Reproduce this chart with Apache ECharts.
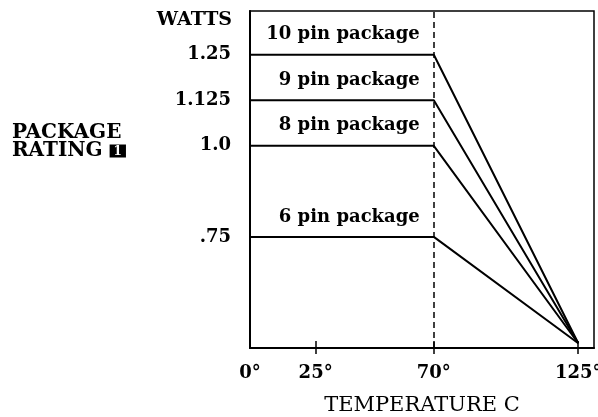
<!DOCTYPE html>
<html>
<head>
<meta charset="utf-8">
<script src="https://cdn.jsdelivr.net/npm/echarts@6/dist/echarts.min.js"></script>
<style>html,body{margin:0;padding:0;background:#fff}#c{width:598px;height:417px}</style>
</head>
<body>
<div id="c"></div>
<script>
// Data
const seriesNames = ['10 pin package', '9 pin package', '8 pin package', '6 pin package'];
const ratings = [1.25, 1.125, 1.0, 0.75];       // watts up to the derating knee
const kneeTemp = 70;                             // °C
const startTemp = 0;
const endTemp = 125;
const endValue = 0.458;                          // convergence point (bottom of drawn scale)
const yTickValues = [0.75, 1.0, 1.125, 1.25];
const yTickLabels = ['.75', '1.0', '1.125', '1.25'];
const xTickValues = [0, 25, 70, 125];
const xTickLabels = ['0°', '25°', '70°', '125°'];

const FONT = 'DejaVu Serif';
const chart = echarts.init(document.getElementById('c'), null, {renderer: 'canvas'});

const series = seriesNames.map((name, i) => ({
  name: name,
  type: 'line',
  xAxisIndex: 0,
  symbol: 'circle',
  symbolSize: 0.1,
  showSymbol: true,
  itemStyle: {color: '#000'},
  lineStyle: {color: '#000', width: 2},
  animation: false,
  data: [
    [startTemp, ratings[i]],
    {value: [kneeTemp, ratings[i]], label: {
      show: true, position: 'left', distance: 5, offset: [-9, -20],
      formatter: '{a}', color: '#000', fontFamily: FONT, fontWeight: 'bold', fontSize: 18
    }},
    [endTemp, endValue]
  ],
  markLine: i === 0 ? {
    silent: true, symbol: 'none', label: {show: false},
    lineStyle: {color: '#000', width: 1.5, type: [6, 4]},
    data: [{xAxis: kneeTemp}]
  } : undefined
}));

chart.setOption({
  backgroundColor: '#fff',
  animation: false,
  title: [
    {text: 'WATTS', right: 366, top: 11, padding: 0,
     textStyle: {fontFamily: FONT, fontWeight: 'bold', fontSize: 19, color: '#000'}},
    {text: 'PACKAGE\nRATING {b|1}', left: 12, top: 124, padding: 0,
     textStyle: {fontFamily: FONT, fontWeight: 'bold', fontSize: 20, color: '#000', lineHeight: 18,
       rich: {b: {backgroundColor: '#000', color: '#fff', fontFamily: FONT, fontWeight: 'bold',
                  fontSize: 12, padding: [1, 4, 0, 4], lineHeight: 14}}}}
  ],
  grid: {left: 250, right: 4, top: 11, bottom: 69, show: true, borderColor: '#000', borderWidth: 1.5,
         containLabel: false, outerBoundsMode: 'none'},
  xAxis: [{
    type: 'value', min: 0, max: 131, position: 'bottom',
    name: 'TEMPERATURE C', nameLocation: 'middle', nameGap: 47,
    nameTextStyle: {fontFamily: FONT, fontSize: 21, color: '#000'},
    axisLine: {show: true, lineStyle: {color: '#000', width: 2}},
    axisTick: {show: true, customValues: [25, 70, 125], length: 6, lineStyle: {color: '#000', width: 1.5}},
    axisLabel: {customValues: xTickValues, margin: 16, color: '#000', fontFamily: FONT, fontWeight: 'bold', fontSize: 18,
      hideOverlap: false, formatter: v => xTickLabels[xTickValues.indexOf(v)] || ''},
    splitLine: {show: false}
  }, {
    type: 'value', min: 0, max: 131, position: 'bottom', gridIndex: 0,
    axisLine: {show: false},
    axisTick: {show: true, inside: true, customValues: [25, 70, 125], length: 7, lineStyle: {color: '#000', width: 1.5}},
    axisLabel: {show: false},
    splitLine: {show: false}
  }],
  yAxis: {
    type: 'value', min: 0.445, max: 1.37,
    axisLine: {show: true, lineStyle: {color: '#000', width: 2}},
    axisTick: {show: false},
    axisLabel: {customValues: yTickValues, margin: 19, color: '#000', fontFamily: FONT, fontWeight: 'bold', fontSize: 18,
      formatter: v => { const k = yTickValues.findIndex(t => Math.abs(t - v) < 1e-9); return k >= 0 ? yTickLabels[k] : ''; }},
    splitLine: {show: false}
  },
  series: series
});
</script>
</body>
</html>
